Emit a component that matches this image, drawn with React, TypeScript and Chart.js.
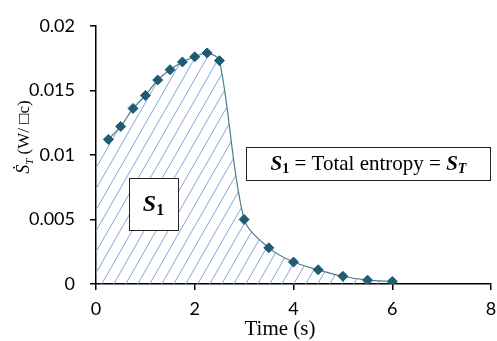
import React, { useEffect, useRef } from 'react';
import { Chart, registerables } from 'chart.js';

Chart.register(...registerables);

// ---- data ----
const times: number[] = [0.25, 0.5, 0.75, 1, 1.25, 1.5, 1.75, 2, 2.25, 2.5, 3, 3.5, 4, 4.5, 5, 5.5, 6];
const entropyRate: number[] = [0.0112, 0.0122, 0.0136, 0.0146, 0.0158, 0.0166, 0.0172, 0.0176, 0.0179, 0.0173, 0.005, 0.0028, 0.0017, 0.0011, 0.0006, 0.0003, 0.0002];
const hatchStart = { x: 0, y: 0.0101 };
const xTickValues: number[] = [0, 2, 4, 6, 8];
const yTickValues: number[] = [0, 0.005, 0.01, 0.015, 0.02];
const xTitle = 'Time (s)';
const areaLabel = 'S';
const areaSub = '1';
const eqMiddle = ' = Total entropy = ';
const totalSub = 'T';
const yTitleUnit = ' (W/ \u25A1c)';

const SERIF = '"Liberation Serif", "Times New Roman", serif';

function makeHatch(): CanvasPattern | string {
  const w = 12, h = 21;
  const c = document.createElement('canvas');
  c.width = w; c.height = h;
  const g = c.getContext('2d');
  if (!g) return 'rgba(140,170,220,0.3)';
  g.strokeStyle = '#86a3d8';
  g.lineWidth = 1;
  for (let k = -1; k <= 1; k++) {
    g.beginPath();
    g.moveTo(k * w, h);
    g.lineTo(k * w + w, 0);
    g.stroke();
  }
  return g.createPattern(c, 'repeat') || '#cfdcf0';
}

type Seg = { text: string; font: string; dy?: number };

function drawSegs(ctx: CanvasRenderingContext2D, segs: Seg[], cx: number, baseY: number) {
  let total = 0;
  const widths = segs.map((s) => { ctx.font = s.font; const w = ctx.measureText(s.text).width; total += w; return w; });
  let x = cx - total / 2;
  ctx.textAlign = 'left';
  ctx.textBaseline = 'alphabetic';
  segs.forEach((s, i) => {
    ctx.font = s.font;
    ctx.fillText(s.text, x, baseY + (s.dy || 0));
    x += widths[i];
  });
}

const annotations = {
  id: 'annotations',
  afterDraw(chart: any) {
    const ctx: CanvasRenderingContext2D = chart.ctx;
    const a = chart.chartArea;
    ctx.save();
    ctx.fillStyle = '#000';
    // x title
    ctx.font = `21px ${SERIF}`;
    ctx.textAlign = 'center';
    ctx.textBaseline = 'alphabetic';
    ctx.fillText(xTitle, a.left + 184, 335);

    // y title (rotated)
    ctx.save();
    ctx.translate(29, 137);
    ctx.rotate(-Math.PI / 2);
    drawSegs(ctx, [
      { text: '\u1E60', font: `italic 18px ${SERIF}` },
      { text: totalSub, font: `italic 11px ${SERIF}`, dy: 4 },
      { text: yTitleUnit, font: `17px ${SERIF}` },
    ], 0, 0);
    ctx.restore();

    // S1 box
    const b1 = { x: a.left + 33, y: 178, w: 49, h: 52 };
    ctx.fillStyle = '#fff';
    ctx.fillRect(b1.x, b1.y, b1.w, b1.h);
    ctx.strokeStyle = '#222';
    ctx.lineWidth = 1;
    ctx.strokeRect(b1.x + 0.5, b1.y + 0.5, b1.w, b1.h);
    ctx.fillStyle = '#000';
    drawSegs(ctx, [
      { text: areaLabel, font: `italic bold 24px ${SERIF}` },
      { text: areaSub, font: `bold 16px ${SERIF}`, dy: 4 },
    ], b1.x + b1.w / 2, b1.y + 33);

    // equation box
    const b2 = { x: a.left + 150, y: 147, w: a.right - a.left - 150, h: 33 };
    ctx.fillStyle = '#fff';
    ctx.fillRect(b2.x, b2.y, b2.w, b2.h);
    ctx.strokeStyle = '#222';
    ctx.strokeRect(b2.x + 0.5, b2.y + 0.5, b2.w - 1, b2.h);
    ctx.fillStyle = '#000';
    drawSegs(ctx, [
      { text: areaLabel, font: `italic bold 21px ${SERIF}` },
      { text: areaSub, font: `bold 14px ${SERIF}`, dy: 3 },
      { text: eqMiddle, font: `21px ${SERIF}` },
      { text: areaLabel, font: `italic bold 21px ${SERIF}` },
      { text: totalSub, font: `italic bold 14px ${SERIF}`, dy: 3 },
    ], b2.x + b2.w / 2, b2.y + 23);
    ctx.restore();
  },
};

export default function App() {
  const ref = useRef<HTMLCanvasElement | null>(null);
  useEffect(() => {
    document.body.style.margin = '0';
    const canvas = ref.current;
    if (!canvas) return;
    const pattern = makeHatch();
    const points = times.map((t, i) => ({ x: t, y: entropyRate[i] }));
    const hatchPts = [hatchStart, ...points];
    const fmt = (v: number) => String(parseFloat(Number(v).toFixed(3)));
    const chart = new Chart(canvas, {
      type: 'line',
      data: {
        datasets: [
          {
            label: 'S_T',
            data: points,
            borderColor: '#4d7d8b',
            borderWidth: 1.2,
            pointStyle: 'rectRot',
            pointRadius: 5,
            pointBackgroundColor: '#1f5b72',
            pointBorderColor: '#1f5b72',
            pointBorderWidth: 1,
            tension: 0.3,
            fill: false,
            order: 0,
          },
          {
            label: 'area',
            data: hatchPts,
            borderWidth: 0,
            borderColor: 'rgba(0,0,0,0)',
            pointRadius: 0,
            tension: 0.3,
            backgroundColor: pattern as any,
            fill: 'origin',
            order: 1,
          },
        ],
      },
      plugins: [annotations],
      options: {
        responsive: false,
        animation: false,
        layout: { padding: { top: 19, right: 6, left: 0, bottom: 0 } },
        plugins: { legend: { display: false }, tooltip: { enabled: false }, title: { display: false } },
        scales: {
          x: {
            type: 'linear',
            min: 0,
            max: 8,
            afterBuildTicks: (s: any) => { s.ticks = xTickValues.map((v) => ({ value: v })); },
            afterFit: (s: any) => { s.height = 57; s.paddingRight = 0; s.paddingLeft = 0; },
            ticks: { color: '#000', font: { family: 'Lato', size: 18 }, padding: 8, maxRotation: 0, callback: (v: any) => fmt(v) },
            grid: { drawOnChartArea: false, drawTicks: true, tickLength: 6, color: '#000', lineWidth: 1.5 },
            border: { display: true, color: '#000', width: 1.5 },
          },
          y: {
            type: 'linear',
            min: 0,
            max: 0.02,
            afterBuildTicks: (s: any) => { s.ticks = yTickValues.map((v) => ({ value: v })); },
            afterFit: (s: any) => { s.width = 96; },
            ticks: { color: '#000', font: { family: 'Lato', size: 18 }, padding: 15, callback: (v: any) => fmt(v) },
            grid: { drawOnChartArea: false, drawTicks: true, tickLength: 6, color: '#000', lineWidth: 1.5 },
            border: { display: true, color: '#000', width: 1.5 },
          },
        },
      },
    } as any);
    return () => chart.destroy();
  }, []);
  return (
    <div style={{ width: 497, height: 341, overflow: 'hidden', background: '#fff' }}>
      <canvas ref={ref} width={497} height={341} style={{ display: 'block', width: 497, height: 341 }} />
    </div>
  );
}
